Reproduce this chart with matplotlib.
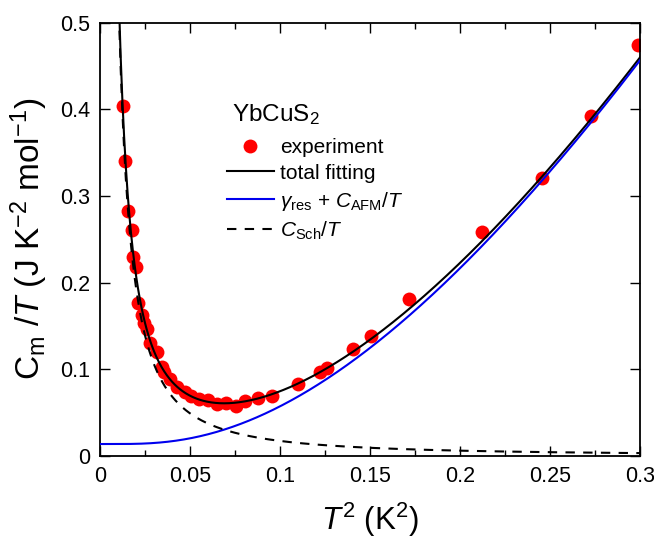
import numpy as np
import matplotlib
matplotlib.use("Agg")
import matplotlib.pyplot as plt

plt.rcParams["font.family"] = ["Liberation Sans", "DejaVu Sans"]
plt.rcParams["mathtext.fontset"] = "custom"
plt.rcParams["mathtext.rm"] = "Liberation Sans"
plt.rcParams["mathtext.it"] = "Liberation Sans:italic"
plt.rcParams["mathtext.bf"] = "Liberation Sans:bold"

# Measured C_m/T versus T^2
t2_exp = [0.0129, 0.0139, 0.0156, 0.0176, 0.0185, 0.0198, 0.0211, 0.0233,
          0.0247, 0.0260, 0.0278, 0.0315, 0.0344, 0.0356, 0.0389, 0.0428,
          0.0472, 0.0506, 0.0550, 0.0600, 0.0650, 0.0700, 0.0756, 0.0806,
          0.0878, 0.0954, 0.1102, 0.1222, 0.1259, 0.1407, 0.1504, 0.1717,
          0.2121, 0.2457, 0.2725, 0.2989]
cm_exp = [0.404, 0.340, 0.283, 0.261, 0.230, 0.218, 0.177, 0.163,
          0.154, 0.146, 0.130, 0.120, 0.103, 0.097, 0.089, 0.080,
          0.074, 0.069, 0.066, 0.065, 0.060, 0.061, 0.058, 0.063,
          0.067, 0.069, 0.083, 0.097, 0.102, 0.124, 0.139, 0.181,
          0.258, 0.321, 0.392, 0.474]

# Fit parameters
gamma_res = 0.0138   # J K^-2 mol^-1
a_afm = 7.83         # prefactor of gapped AFM term
gap_afm = 0.914      # K
b_sch = 5.5e-4       # nuclear Schottky tail, C/T = B / T^3

x_fit = np.linspace(0.0, 0.3, 600)
x_sch = np.linspace(0.0105, 0.3, 600)


def afm_part(x):
    t = np.sqrt(np.clip(x, 1e-12, None))
    return gamma_res + a_afm * x * np.exp(-gap_afm / t)


def sch_part(x):
    return b_sch / x ** 1.5


fig = plt.figure(figsize=(6.54, 5.39), dpi=100)
ax = fig.add_axes([0.1529, 0.154, 0.8257, 0.804])

ax.plot(t2_exp, cm_exp, "o", color="#ff0000", ms=10, mec="none",
        label="experiment", zorder=2)
ax.plot(x_sch, afm_part(x_sch) + sch_part(x_sch), color="black", lw=1.5,
        label="total fitting", zorder=3)
ax.plot(x_fit, afm_part(x_fit), color="#0000ee", lw=1.5,
        label=r"$\gamma_{\rm res}$ + $C_{\rm AFM}$/$T$", zorder=3)
ax.plot(x_sch, sch_part(x_sch), color="black", lw=1.5, ls=(0, (4.5, 4)),
        label=r"$C_{\rm Sch}$/$T$", zorder=3)

ax.set_xlim(0, 0.3)
ax.set_ylim(0, 0.5)
ax.set_xticks([0, 0.05, 0.1, 0.15, 0.2, 0.25, 0.3])
ax.set_xticklabels(["0", "0.05", "0.1", "0.15", "0.2", "0.25", "0.3"])
ax.set_xticks(np.arange(0.025, 0.3, 0.05), minor=True)
ax.set_yticks([0, 0.1, 0.2, 0.3, 0.4, 0.5])
ax.set_yticklabels(["0", "0.1", "0.2", "0.3", "0.4", "0.5"])

ax.tick_params(which="both", direction="in", top=True, right=True,
               labelsize=15.5, width=1.0, pad=7)
ax.tick_params(which="major", length=7.5)
ax.tick_params(which="minor", length=4)
for s in ax.spines.values():
    s.set_linewidth(1.3)

ax.set_xlabel(r"$T^2$ (K$^2$)", fontsize=22.5, labelpad=10)
ax.set_ylabel(r"C$_{\rm m}$ /$T$ (J K$^{-2}$ mol$^{-1}$)", fontsize=24,
              labelpad=7)

ax.text(0.2444, 0.7735, r"YbCuS$_2$", transform=ax.transAxes,
        fontsize=17.5, ha="left", va="baseline")
ax.legend(loc="upper left", bbox_to_anchor=(0.2346, 0.734),
          frameon=False, fontsize=15, numpoints=1,
          handlelength=2.25, handletextpad=0.3, labelspacing=0.33,
          borderpad=0, borderaxespad=0)

fig.savefig("out.png", dpi=100)
